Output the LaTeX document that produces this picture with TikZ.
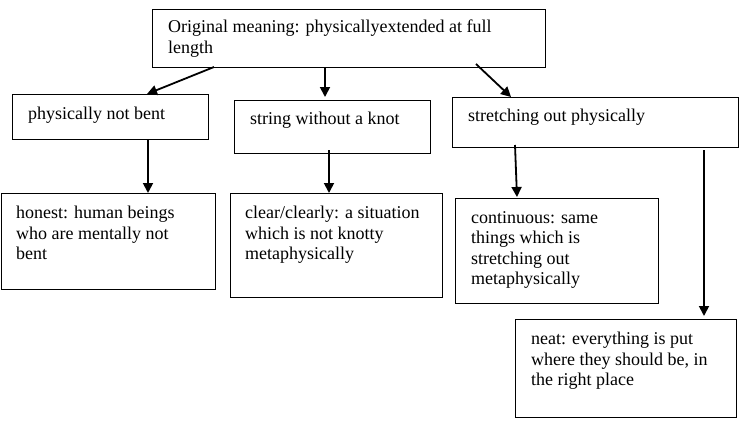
\documentclass[tikz,border=0pt]{standalone}
\usepackage{fontspec}
\setmainfont{Liberation Serif}
\usetikzlibrary{arrows.meta}
\begin{document}
\begin{tikzpicture}[x=1pt,y=-1pt,
  box/.style={draw, line width=1.4pt, inner sep=0pt, anchor=north west},
  txt/.style={anchor=north west, align=left, inner sep=0pt, font=\fontsize{18}{20.5}\selectfont},
  arr/.style={-{Triangle[length=10pt,width=10pt]}, line width=1.8pt}]
\useasboundingbox (0,0) rectangle (740,426);
% boxes
\node[box, minimum width=393pt, minimum height=58pt] (top) at (152,9) {};
\node[box, minimum width=196pt, minimum height=45pt] (a) at (12,94) {};
\node[box, minimum width=196pt, minimum height=53pt] (b) at (234,100) {};
\node[box, minimum width=286pt, minimum height=50pt] (c) at (452,97) {};
\node[box, minimum width=214pt, minimum height=96pt] (d) at (1,193) {};
\node[box, minimum width=212pt, minimum height=104pt] (e) at (230,193) {};
\node[box, minimum width=203pt, minimum height=105pt] (f) at (455,198) {};
\node[box, minimum width=221pt, minimum height=98pt] (g) at (515,319) {};
% texts
\node[txt] (ttop) at (168,20) {Original meaning: physicallyextended at full\\length};
\node[txt] (ta) at (28,107) {physically not bent};
\node[txt] (tb) at (250,112) {string without a knot};
\node[txt] (tc) at (468,109) {stretching out physically};
\node[txt] (td) at (16,206) {honest: human beings\\who are mentally not\\bent};
\node[txt] (te) at (245,206) {clear/clearly: a situation\\which is not knotty\\metaphysically};
\node[txt] (tf) at (471,211) {continuous: same\\things which is\\stretching out\\metaphysically};
\node[txt] (tg) at (531,332) {neat: everything is put\\where they should be, in\\the right place};
% connector end points
\coordinate (s1) at (214,67); \coordinate (e1) at (147,94);
\coordinate (s2) at (325,67); \coordinate (e2) at (325,97);
\coordinate (s3) at (476,64); \coordinate (e3) at (511,97);
\coordinate (s4) at (148,139); \coordinate (e4) at (148,193);
\coordinate (s5) at (329,150); \coordinate (e5) at (329,193);
\coordinate (s6) at (515,145); \coordinate (e6) at (517,197);
\coordinate (s7) at (704,150); \coordinate (e7) at (704,316);
\draw[arr] (s1) -- (e1);
\draw[arr] (s2) -- (e2);
\draw[arr] (s3) -- (e3);
\draw[arr] (s4) -- (e4);
\draw[arr] (s5) -- (e5);
\draw[arr] (s6) -- (e6);
\draw[arr] (s7) -- (e7);
\end{tikzpicture}
\end{document}
